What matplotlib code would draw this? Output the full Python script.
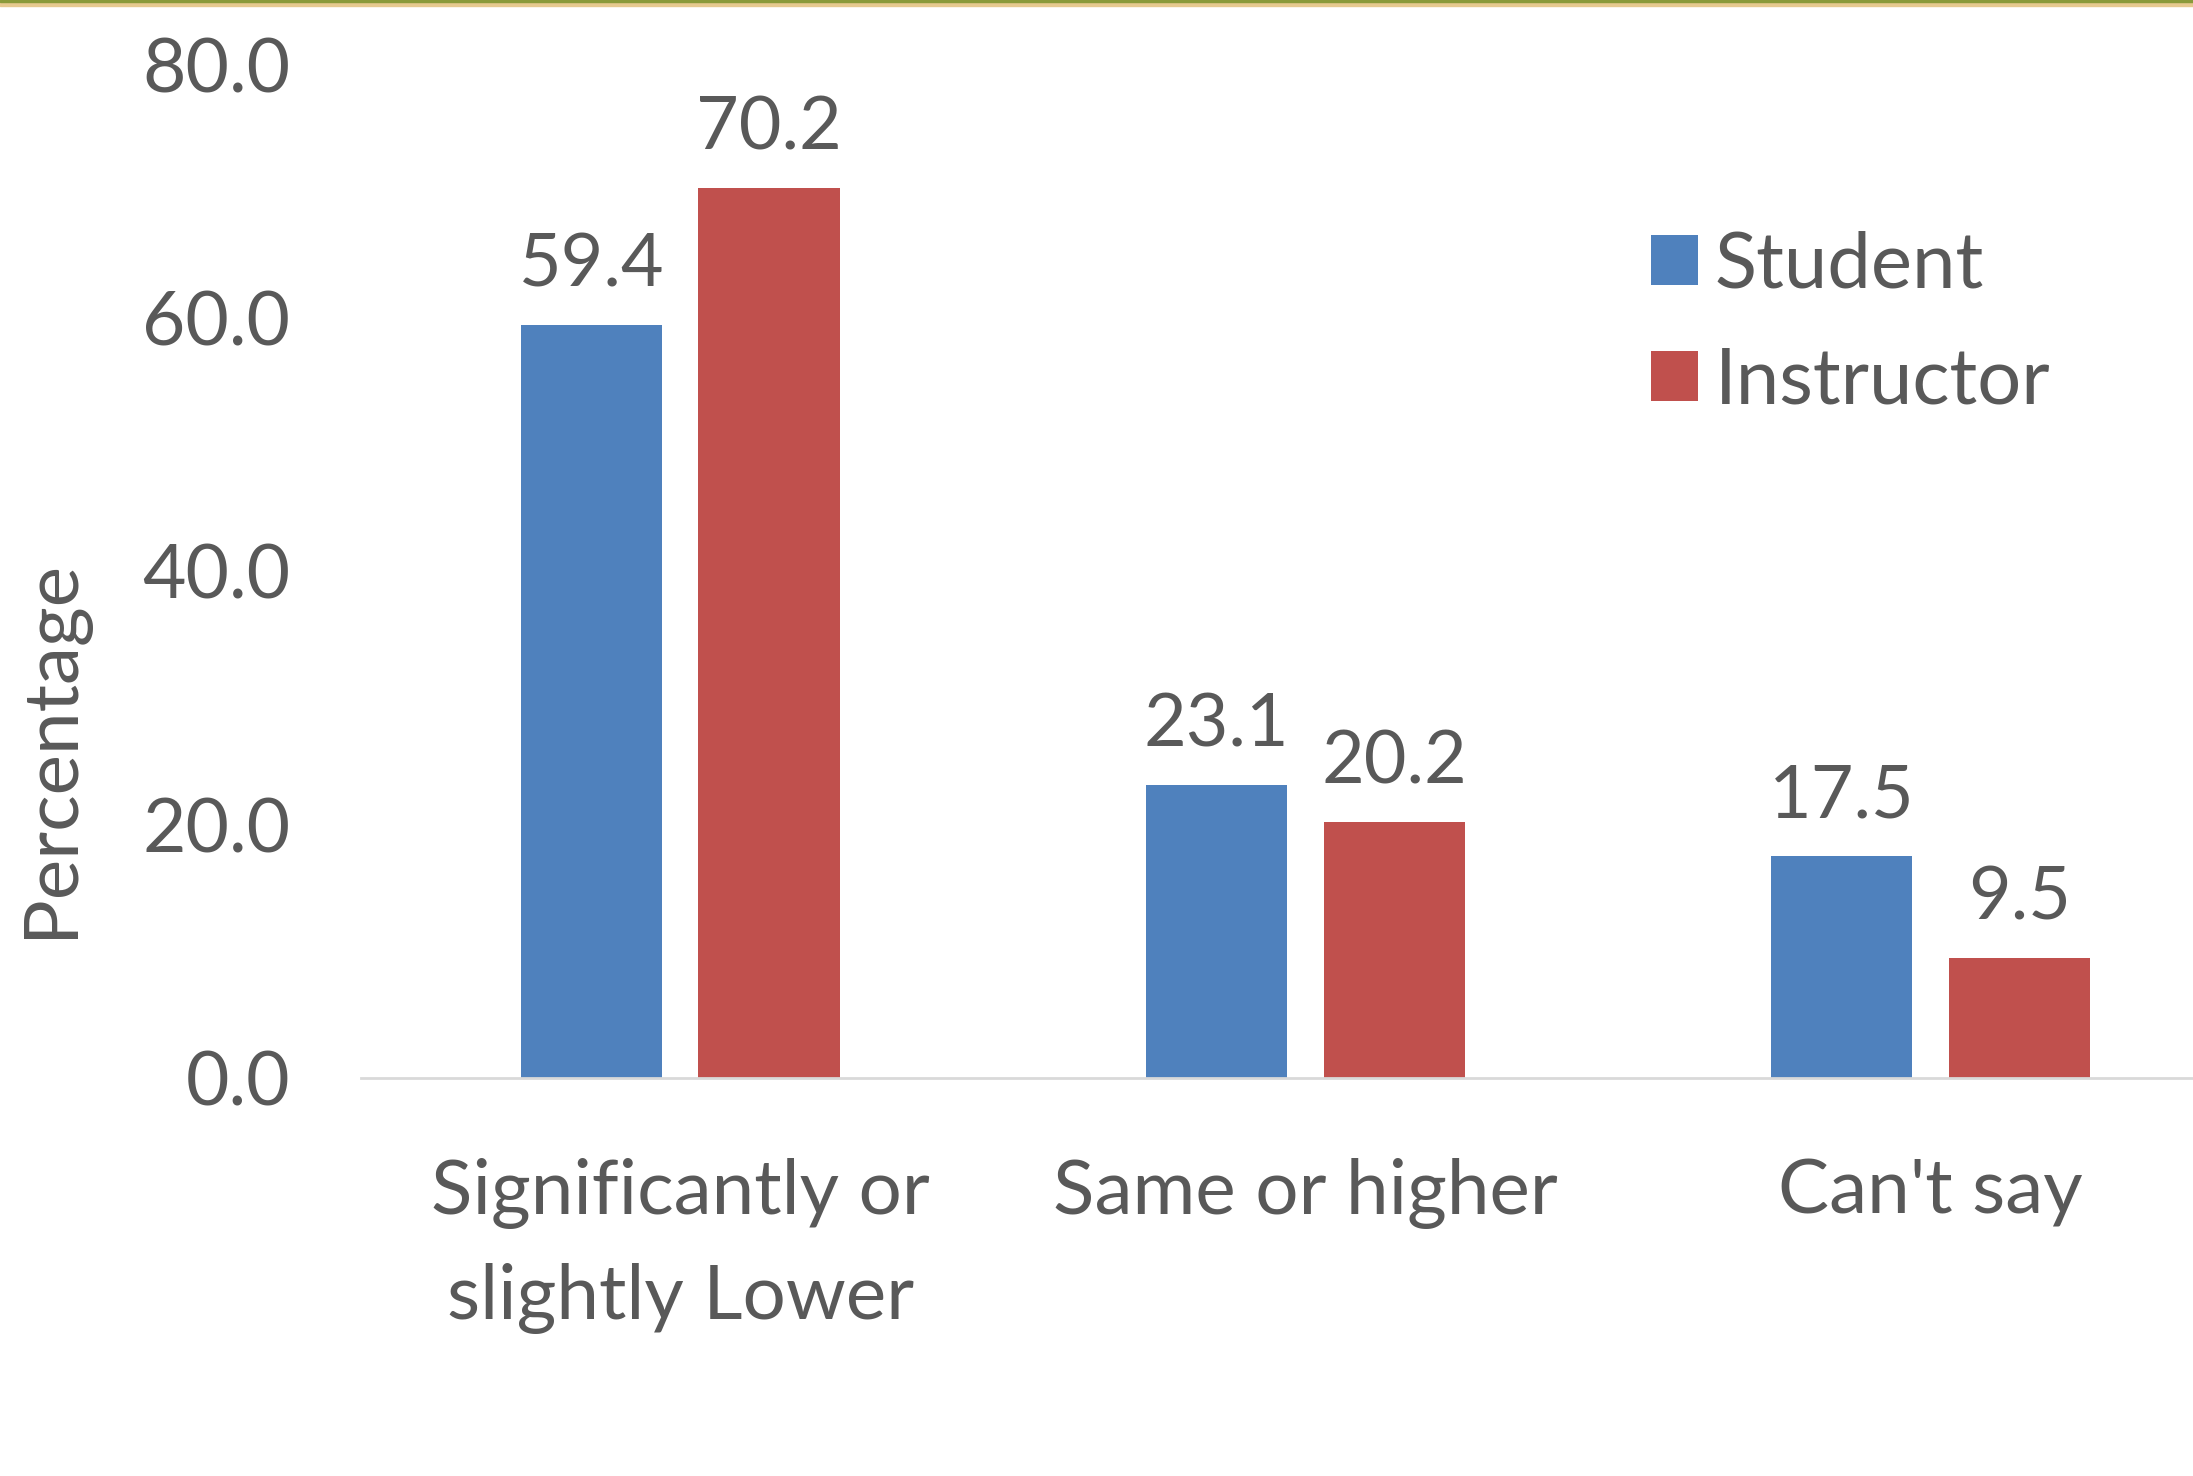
import matplotlib.pyplot as plt
import numpy as np
from matplotlib.patches import Rectangle

# dados
categorias = ['Significantly or\nslightly Lower', 'Same or higher', "Can't say"]
student = [59.4, 23.1, 17.5]
instructor = [70.2, 20.2, 9.5]
yticks = [0, 20, 40, 60, 80]

cor_texto = '#595959'
azul = '#4F81BD'
vermelho = '#C0504D'

plt.rcParams['font.family'] = ['Lato', 'DejaVu Sans']

fig = plt.figure(figsize=(21.93, 14.76), dpi=100)
ax = fig.add_axes([0.1646, 0.2697, 1 - 0.1646, 0.9566 - 0.2697])

x = np.arange(len(categorias))
largura = 0.226
desloc = 0.142
b1 = ax.bar(x - desloc, student, largura, color=azul, label='Student')
b2 = ax.bar(x + desloc, instructor, largura, color=vermelho, label='Instructor')

for barras, valores in [(b1, student), (b2, instructor)]:
    for b, v in zip(barras, valores):
        ax.text(b.get_x() + b.get_width() / 2, v + 2.0, f'{v:.1f}',
                ha='center', va='bottom', fontsize=53, color=cor_texto)

ax.set_ylim(0, 80)
ax.set_xlim(-0.511, 2.42)
ax.set_yticks(yticks)
ax.set_yticklabels([f'{t:.1f}' for t in yticks])
ax.set_xticks(x)
ax.set_xticklabels(categorias, linespacing=1.6)
ax.tick_params(axis='both', length=0, colors=cor_texto)
ax.tick_params(axis='y', pad=51, labelsize=54)
ax.tick_params(axis='x', pad=58, labelsize=55)

for lado in ['top', 'right', 'left']:
    ax.spines[lado].set_visible(False)
ax.spines['bottom'].set_color('#D9D9D9')
ax.spines['bottom'].set_linewidth(2)

ax.set_ylabel('Percentage', fontsize=55, color=cor_texto)
ax.yaxis.set_label_coords(-0.1497, 0.325)

leg = ax.legend(loc='upper left', bbox_to_anchor=(0.666, 0.905), frameon=False,
                fontsize=56, handlelength=0.6, handleheight=0.6,
                handletextpad=0.22, labelspacing=0.58)
for t in leg.get_texts():
    t.set_color(cor_texto)

# faixa decorativa no topo
fig.patches.append(Rectangle((0, 1 - 6 / 1476), 1, 6 / 1476, transform=fig.transFigure,
                             color='#E6C98F', zorder=5))
fig.patches.append(Rectangle((0, 1 - 1.5 / 1476), 1, 1.5 / 1476, transform=fig.transFigure,
                             color='#8A9A3A', zorder=6))

fig.savefig('out.png', dpi=100, facecolor='white')
